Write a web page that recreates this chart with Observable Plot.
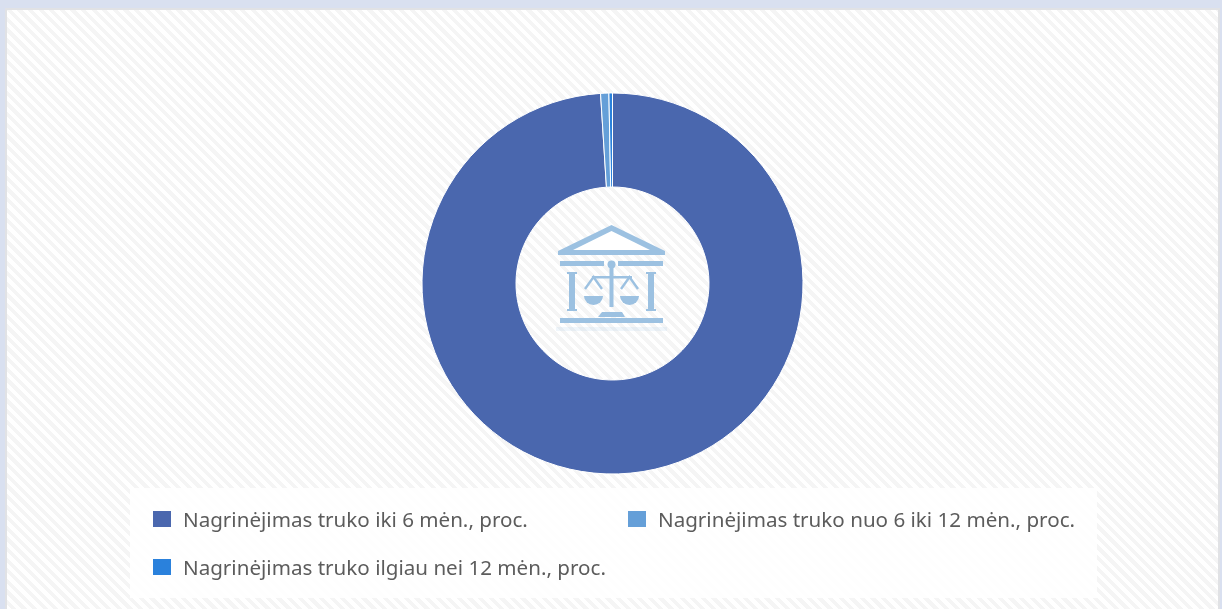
<!DOCTYPE html>
<html lang="lt">
<head>
<meta charset="utf-8">
<script src="https://cdn.jsdelivr.net/npm/d3@7"></script>
<script src="https://cdn.jsdelivr.net/npm/@observablehq/plot@0.6"></script>
<style>
html,body{margin:0;padding:0;width:1222px;height:609px;overflow:hidden;background:#d9e0f0;}
#card{position:absolute;left:5px;top:8px;width:1215px;height:620px;box-sizing:border-box;border:2px solid #e1e2e5;
  background:repeating-linear-gradient(45deg,#f5f5f5 0,#f5f5f5 3.75px,#ffffff 3.75px,#ffffff 7.5px);}
#chart{position:absolute;left:0;top:0;filter:blur(.5px);}
#chart svg{display:block;background:transparent;}
#legend{position:absolute;left:130px;top:488px;width:967px;height:110px;background:rgba(255,255,255,.85);
  font-family:"Noto Sans",sans-serif;font-size:20.6px;color:#5c5c5c;filter:blur(.6px);}
.item{position:absolute;white-space:nowrap;line-height:24px;}
.swatch{position:absolute;width:18px;height:16px;}
</style>
</head>
<body>
<div id="card"></div>
<div id="chart"></div>
<div id="legend"></div>
<script>
const categories = [
  "Nagrinėjimas truko iki 6 mėn., proc.",
  "Nagrinėjimas truko nuo 6 iki 12 mėn., proc.",
  "Nagrinėjimas truko ilgiau nei 12 mėn., proc."
];
const values = [99.0, 0.7, 0.3];
const colors = ["#4a67ae", "#659fd8", "#2a81dc"];
const rows = categories.map((name, i) => ({name, value: values[i]}));

const cx = 612.5, cy = 283.5, outer = 190.5, inner = 96.5;

function donut(index, scales, vals, dims, context) {
  const g = d3.select(context.document.createElementNS("http://www.w3.org/2000/svg", "g"))
    .attr("transform", `translate(${cx},${cy})`);
  const arc = d3.arc().innerRadius(inner).outerRadius(outer);
  for (const i of index) {
    g.append("path")
      .attr("d", arc({startAngle: vals.x1[i], endAngle: vals.x2[i]}))
      .attr("fill", vals.fill[i])
      .attr("stroke", "#fff")
      .attr("stroke-width", 1);
  }
  return g.node();
}

function emblem() {
  const ns = "http://www.w3.org/2000/svg";
  const svg = d3.select(document.createElementNS(ns, "g")).attr("fill", "#9cc1e1");
  const poly = pts => svg.append("polygon").attr("points", pts);
  const rect = (x, y, w, h, o) => svg.append("rect").attr("x", x).attr("y", y).attr("width", w).attr("height", h).attr("opacity", o ?? 1);
  poly("611.5,225 665,251 665,255 558,255 558,251");
  svg.append("polygon").attr("points", "611.5,231 650,250 573,250").attr("fill", "#fff");
  rect(560, 261, 44, 5); rect(618, 261, 45, 5);
  rect(569, 273, 6, 37); rect(648, 273, 6, 37);
  rect(567, 272, 10, 2); rect(646, 272, 10, 2);
  rect(567, 309, 10, 2); rect(646, 309, 10, 2);
  svg.append("circle").attr("cx", 611.5).attr("cy", 264.5).attr("r", 4);
  rect(609.5, 265, 4, 42);
  rect(592, 276, 40, 2.5);
  svg.append("path").attr("d", "M584,296 H603 A9.5,9 0 0 1 584,296 Z");
  svg.append("path").attr("d", "M620,296 H639 A9.5,9 0 0 1 620,296 Z");
  svg.append("path").attr("fill", "none").attr("stroke", "#9cc1e1").attr("stroke-width", 2.4)
    .attr("d", "M585,289 L593.5,277 L602,289 M621,289 L629.5,277 L638,289");
  poly("602,312 622,312 625,317 598,317");
  rect(560, 318, 103, 5);
  rect(556, 327, 111, 4, 0.15);
  return svg.node();
}

const plot = Plot.plot({
  width: 1222,
  height: 609,
  margin: 0,
  x: {domain: [0, 100], range: [0, 2 * Math.PI], axis: null},
  y: {axis: null},
  color: {domain: categories, range: colors},
  marks: [
    Plot.barX(rows, Plot.stackX({x: "value", fill: "name", order: null, render: donut})),
    () => emblem()
  ]
});
document.getElementById("chart").append(plot);

const legend = d3.select("#legend");
const placement = [[23, 23, 53, 19], [498, 23, 528, 19], [23, 71, 53, 67]];
categories.forEach((name, i) => {
  const [sx, sy, tx, ty] = placement[i];
  legend.append("div").attr("class", "swatch")
    .style("left", sx + "px").style("top", sy + "px").style("background", colors[i]);
  legend.append("div").attr("class", "item")
    .style("left", tx + "px").style("top", ty + "px").text(name);
});
</script>
</body>
</html>
